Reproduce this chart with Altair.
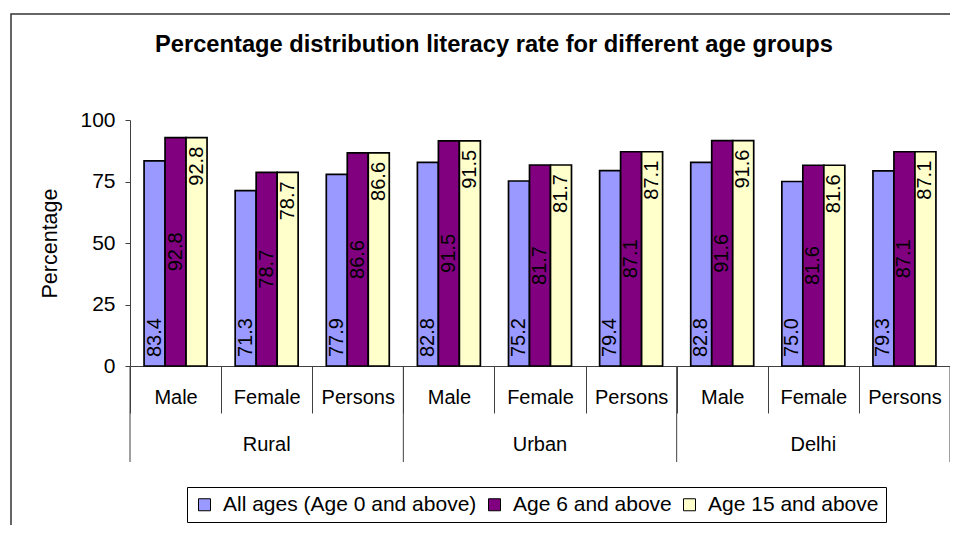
import altair as alt
import pandas as pd

regions = ["Rural", "Urban", "Delhi"]
sexes = ["Male", "Female", "Persons"]
series_names = ["All ages (Age 0 and above)", "Age 6 and above", "Age 15 and above"]
series_colors = ["#9999FF", "#800080", "#FFFFCC"]

all_ages = [83.4, 71.3, 77.9, 82.8, 75.2, 79.4, 82.8, 75.0, 79.3]
age6 = [92.8, 78.7, 86.6, 91.5, 81.7, 87.1, 91.6, 81.6, 87.1]
age15 = [92.8, 78.7, 86.6, 91.5, 81.7, 87.1, 91.6, 81.6, 87.1]

title_text = "Percentage distribution literacy rate for different age groups"
y_title = "Percentage"
y_ticks = [0, 25, 50, 75, 100]

cats = [f"{r}|{s}" for r in regions for s in sexes]
rows = []
for i, c in enumerate(cats):
    for sname, vals in zip(series_names, [all_ages, age6, age15]):
        rows.append({"cat": c, "series": sname, "value": vals[i]})
df = pd.DataFrame(rows)

groups_df = pd.DataFrame({"region": regions,
                          "first": [f"{r}|Male" for r in regions],
                          "mid": [f"{r}|Female" for r in regions]})
end_df = pd.DataFrame({"last": [cats[-1]]})
frame_df = pd.DataFrame({"k": [0]})

FONT = "Liberation Sans"
W, H = 820, 246
AX = "#404040"

xscale = alt.Scale(domain=cats, paddingInner=0, paddingOuter=0)
xoff = alt.XOffset("series:N", sort=series_names,
                   scale=alt.Scale(domain=series_names, paddingInner=0, paddingOuter=0.67))
yscale = alt.Scale(domain=[0, 100], nice=False)

base = alt.Chart(df)

bars = base.mark_bar(stroke="black", strokeWidth=1.7).encode(
    x=alt.X("cat:N", scale=xscale, title=None,
            axis=alt.Axis(labelExpr="split(datum.label, '|')[1]", labelAngle=0,
                          tickBand="extent", tickSize=47, tickColor=AX, domainColor=AX,
                          labelFont=FONT, labelFontSize=20, labelColor="black",
                          labelBaseline="middle", labelPadding=-16)),
    xOffset=xoff,
    y=alt.Y("value:Q", scale=yscale, title=y_title,
            axis=alt.Axis(values=y_ticks, grid=False, tickSize=5, tickColor=AX, domainColor=AX,
                          labelFont=FONT, labelFontSize=21, labelColor="black", labelPadding=10,
                          titleFont=FONT, titleFontSize=21.5, titleFontWeight="normal",
                          titleColor="black", titlePadding=18)),
    color=alt.Color("series:N", sort=series_names,
                    scale=alt.Scale(domain=series_names, range=series_colors),
                    legend=alt.Legend(title=None, orient="none", legendX=57, legendY=367,
                                      direction="horizontal", strokeColor="black", padding=7,
                                      symbolType="square", symbolSize=144,
                                      symbolStrokeColor="black", symbolStrokeWidth=1,
                                      labelFont=FONT, labelFontSize=21, labelColor="black",
                                      labelLimit=0, labelOffset=8, columnPadding=7)),
)

t1 = base.transform_filter(alt.datum.series == series_names[0]).mark_text(
    angle=270, align="left", baseline="middle", dx=9, font=FONT, fontSize=20, color="black"
).encode(
    x=alt.X("cat:N", scale=xscale),
    xOffset=xoff,
    y=alt.value(H),
    text=alt.Text("value:Q", format=".1f"),
)

t2 = base.transform_filter(alt.datum.series == series_names[1]).transform_calculate(
    half="datum.value / 2"
).mark_text(
    angle=270, align="center", baseline="middle", font=FONT, fontSize=20, color="black"
).encode(
    x=alt.X("cat:N", scale=xscale),
    xOffset=xoff,
    y=alt.Y("half:Q", scale=yscale, title=y_title),
    text=alt.Text("value:Q", format=".1f"),
)

t3 = base.transform_filter(alt.datum.series == series_names[2]).mark_text(
    angle=270, align="right", baseline="middle", dx=-9, font=FONT, fontSize=20, color="black"
).encode(
    x=alt.X("cat:N", scale=xscale),
    xOffset=xoff,
    y=alt.Y("value:Q", scale=yscale, title=y_title),
    text=alt.Text("value:Q", format=".1f"),
)

sep = alt.Chart(groups_df).mark_rule(color=AX, strokeWidth=1).encode(
    x=alt.X("first:N", scale=xscale, bandPosition=0),
    y=alt.value(H),
    y2=alt.value(H + 96),
)
sep_end = alt.Chart(end_df).mark_rule(color=AX, strokeWidth=1).encode(
    x=alt.X("last:N", scale=xscale, bandPosition=1),
    y=alt.value(H),
    y2=alt.value(H + 96),
)
grp_lbl = alt.Chart(groups_df).mark_text(
    baseline="middle", font=FONT, fontSize=20, color="black"
).encode(
    x=alt.X("mid:N", scale=xscale, bandPosition=0.5),
    y=alt.value(H + 79),
    text="region:N",
)

frame = alt.Chart(frame_df).mark_rect(fill=None, stroke="#333333", strokeWidth=1.5).encode(
    x=alt.value(-119), x2=alt.value(W + 60), y=alt.value(-106), y2=alt.value(H + 300)
)

chart = alt.layer(frame, bars, t1, t2, t3, sep, sep_end, grp_lbl).properties(
    width=W, height=H,
    autosize=alt.AutoSizeParams(type="none"),
    padding={"left": 122, "top": 112, "right": 0, "bottom": 159},
    title=alt.TitleParams(text=title_text, font=FONT, fontSize=23.7, fontWeight="bold",
                          color="black", anchor="start", frame="group", dx=25,
                          baseline="alphabetic", offset=-62),
).configure_view(stroke=None).resolve_scale(x="shared")

chart.save("out.html", embed_options={"renderer": "svg", "actions": False})
